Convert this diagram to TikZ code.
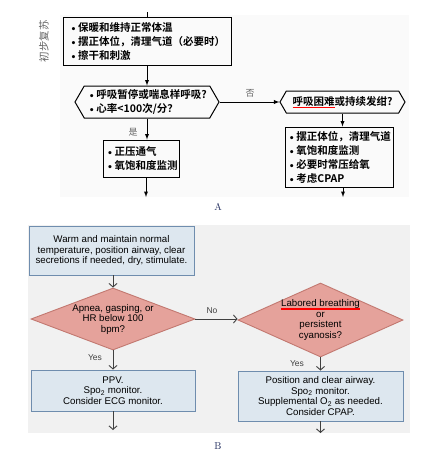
\documentclass[tikz,border=0pt]{standalone}
\usepackage{fontspec}
\usepackage{tikz}
\usetikzlibrary{shapes.geometric,shapes.symbols,arrows.meta}
\newfontfamily\cjk{Noto Sans CJK SC}[BoldFont={Noto Sans CJK SC Bold}]
\newfontfamily\arial{Liberation Sans}
\definecolor{boxblue}{HTML}{DDE7EF}
\definecolor{edgeblue}{HTML}{6F8DAE}
\definecolor{decfill}{HTML}{E5A29B}
\definecolor{decedge}{HTML}{C27870}
\definecolor{panelgray}{HTML}{F1F1F1}
\definecolor{labnavy}{HTML}{1E2A5C}
\newcommand{\bul}{{\rmfamily\textbullet}}
% red underline under a piece of text
\newcommand{\redul}[1]{\setbox0\hbox{#1}\rlap{\color{red}\rule[-2.8pt]{\wd0}{1.1pt}}\box0}

\begin{document}
\begin{tikzpicture}[x=1pt,y=-1pt,
    cnbox/.style={draw,line width=1pt,align=left,inner sep=2pt,
      font=\cjk\bfseries\fontsize{10.5}{14}\selectfont},
    cnhex/.style={cnbox,shape=signal,signal to=west and east,signal pointer angle=120},
    cnarrow/.style={->,>=latex,line width=0.9pt},
    enbox/.style={draw=edgeblue,fill=boxblue,line width=0.9pt,align=center,inner sep=2pt,
      font=\arial\fontsize{9.7}{10.5}\selectfont},
    endec/.style={shape=diamond,draw=decedge,fill=decfill,line width=0.9pt,align=center,
      inner xsep=-4pt,inner ysep=-2pt,font=\arial\fontsize{9.7}{10.5}\selectfont},
    enarrow/.style={-{Straight Barb[length=3.5pt,width=8pt]},draw=black!75,line width=0.9pt},
    enlabel/.style={font=\arial\fontsize{8.5}{10}\selectfont,text=black!75},
    panellabel/.style={font=\rmfamily\fontsize{10}{12}\selectfont,text=labnavy}]
    \useasboundingbox (0,0) rectangle (423,456);
    % panel backgrounds
    \fill[gray!4] (60,15) rectangle (409,197);
    \fill[panelgray] (28,225) rectangle (410,433);

    % A: chinese version
    \node[font=\cjk\fontsize{10.5}{12}\selectfont,text=black!60,rotate=90] (stepA) at (44,41) {初步复苏};
    \node[cnbox,minimum width=168,minimum height=48] (warm) at (147,41)
      {\bul 保暖和维持正常体温\\ \bul 摆正体位，清理气道（必要时）\\ \bul 擦干和刺激};
    \node[cnhex,minimum width=144,minimum height=32] (apnea) at (147,102)
      {\bul 呼吸暂停或喘息样呼吸?\\ \bul 心率<100次/分？};
    \node[cnhex,minimum width=125,minimum height=22] (labored) at (342.5,102)
      {\redul{呼吸困难}或持续发绀?};
    \node[cnbox,minimum width=73,minimum height=37] (ppv) at (141.5,158.5)
      {\bul 正压通气\\ \bul 氧饱和度监测};
    \node[cnbox,minimum width=108,minimum height=60] (cpap) at (339,157)
      {\bul 摆正体位，清理气道\\ \bul 氧饱和度监测\\ \bul 必要时常压给氧\\ \bul 考虑CPAP};
    \node[font=\cjk\fontsize{9}{10}\selectfont,text=black!60] (noA) at (250,93) {否};
    \node[font=\cjk\fontsize{9}{10}\selectfont,text=black!60] (yesA) at (133,132) {是};
    \coordinate (inA) at (147,12);
    \coordinate (outA1) at (146,197);
    \coordinate (outA2) at (343,197);
    \draw[line width=0.9pt] (inA) -- (warm.north);
    \draw[cnarrow] (warm.south) -- (apnea.north);
    \draw[cnarrow] (apnea.east) -- (labored.west);
    \draw[cnarrow] (apnea.south) -- (apnea.south |- ppv.north);
    \draw[cnarrow] (labored.south) -- (labored.south |- cpap.north);
    \draw[cnarrow] (ppv.south -| outA1) -- (outA1);
    \draw[cnarrow] (cpap.south -| outA2) -- (outA2);
    \node[panellabel] (capA) at (218,207) {A};

    % B: english version
    \node[enbox,minimum width=165,minimum height=49] (warmen) at (111.5,250.5)
      {Warm and maintain normal\\temperature, position airway, clear\\secretions if needed, dry, stimulate.};
    \node[endec,aspect=2.65,minimum width=164,minimum height=62] (apneaen) at (113,319)
      {Apnea, gasping, or\\HR below 100\\bpm?};
    \node[endec,aspect=2.23,minimum width=165,minimum height=74] (laboreden) at (320.5,320)
      {\redul{Labored breathing}\\or\\persistent\\cyanosis?};
    \node[enbox,minimum width=164,minimum height=41] (ppven) at (113,390.5)
      {PPV.\\Spo\textsubscript{2} monitor.\\Consider ECG monitor.};
    \node[enbox,minimum width=165,minimum height=50] (cpapen) at (320.5,396)
      {Position and clear airway.\\Spo\textsubscript{2} monitor.\\Supplemental O\textsubscript{2} as needed.\\Consider CPAP.};
    \node[enlabel] (noB) at (212,311) {No};
    \node[enlabel] (yesB1) at (95,358) {Yes};
    \node[enlabel] (yesB2) at (297,364) {Yes};
    \coordinate (outB1) at (113,430);
    \coordinate (outB2) at (320.5,433);
    \draw[enarrow] (apneaen.north |- warmen.south) -- (apneaen.north);
    \draw[enarrow] (apneaen.east) -- (apneaen.east -| laboreden.west);
    \draw[enarrow] (apneaen.south) -- (ppven.north);
    \draw[enarrow] (laboreden.south) -- (cpapen.north);
    \draw[enarrow] (ppven.south) -- (outB1);
    \draw[enarrow] (cpapen.south) -- (outB2);
    \node[panellabel] (capB) at (218,446) {B};
\end{tikzpicture}
\end{document}
